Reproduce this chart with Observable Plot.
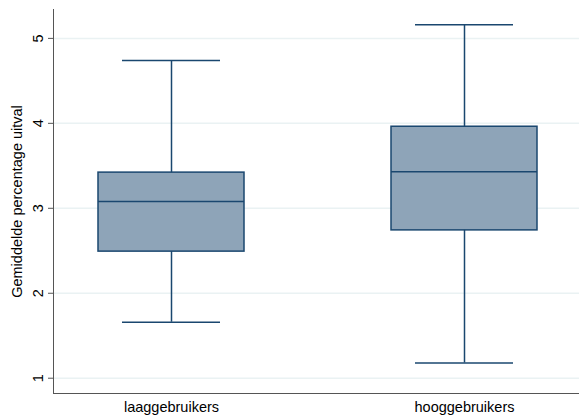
<!DOCTYPE html>
<html>
<head>
<meta charset="utf-8">
<script src="https://cdn.jsdelivr.net/npm/d3@7"></script>
<script src="https://cdn.jsdelivr.net/npm/@observablehq/plot@0.6"></script>
<style>
  html, body { margin: 0; padding: 0; background: #fff; }
  svg { display: block; }
</style>
</head>
<body>
<div id="chart"></div>
<script>
const categories = ["laaggebruikers", "hooggebruikers"];
const lowerWhisker = [1.66, 1.18];
const q1 = [2.49, 2.74];
const median = [3.08, 3.43];
const q3 = [3.42, 3.96];
const upperWhisker = [4.74, 5.16];
const yTicks = [1, 2, 3, 4, 5];

const data = categories.map((c, i) => ({
  cat: c, lo: lowerWhisker[i], q1: q1[i], med: median[i], q3: q3[i], hi: upperWhisker[i]
}));

const navy = "#1a476f";
const fill = "#8ea4b8";
const grid = "#eaf2f3";

const chart = Plot.plot({
  width: 579,
  height: 419,
  marginLeft: 53,
  marginRight: 0,
  marginTop: 9,
  marginBottom: 26,
  style: { fontFamily: "'Liberation Sans', Arial, sans-serif", fontSize: "14.5px", background: "#fff", color: "#000" },
  x: { type: "band", domain: categories, paddingInner: 0.5026, paddingOuter: 0.1474, align: 0.52 },
  y: { domain: [0.82, 5.34] },
  marks: [
    Plot.gridY(yTicks, { stroke: grid, strokeOpacity: 1, strokeWidth: 1.5 }),
    Plot.ruleX(data, { x: "cat", y1: "lo", y2: "hi", stroke: navy, strokeWidth: 1.5 }),
    Plot.tickY(data, { x: "cat", y: "hi", stroke: navy, strokeWidth: 1.5, insetLeft: 24, insetRight: 24 }),
    Plot.tickY(data, { x: "cat", y: "lo", stroke: navy, strokeWidth: 1.5, insetLeft: 24, insetRight: 24 }),
    Plot.barY(data, { x: "cat", y1: "q1", y2: "q3", fill: fill, stroke: navy, strokeWidth: 1.5 }),
    Plot.tickY(data, { x: "cat", y: "med", stroke: navy, strokeWidth: 1.5 }),
    Plot.axisY(yTicks, { anchor: "left", tickSize: 5, tickPadding: 6, tickRotate: -90, stroke: "#555",
      tickFormat: d3.format("d"),
      label: "Gemiddelde percentage uitval", labelAnchor: "center", labelArrow: "none", labelOffset: 42, fill: "#000" }),
    Plot.axisX({ anchor: "bottom", tickSize: 0, tickPadding: 8, label: null, fill: "#000" }),
    Plot.frame({ anchor: "left", stroke: "#555" }),
    Plot.frame({ anchor: "bottom", stroke: "#555" })
  ]
});
document.getElementById("chart").appendChild(chart);
</script>
</body>
</html>
